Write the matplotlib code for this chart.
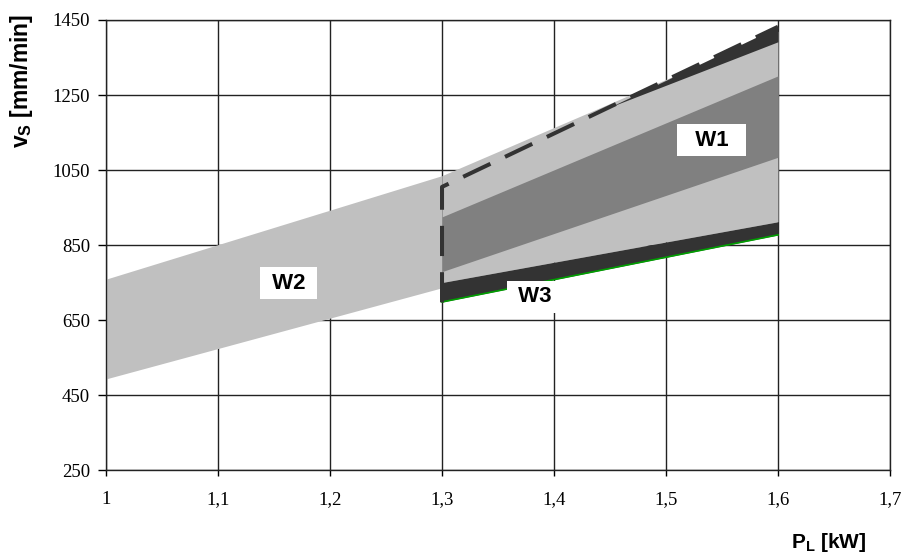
import numpy as np
import matplotlib
matplotlib.use("Agg")
import matplotlib.pyplot as plt
from matplotlib.ticker import FuncFormatter

plt.rcParams['mathtext.fontset'] = 'custom'
plt.rcParams['mathtext.bf'] = 'Liberation Sans:bold'
plt.rcParams['mathtext.rm'] = 'Liberation Sans'

# W2 band
x_w2 = [1.0, 1.3]
w2_low = [493, 736]
w2_high = [759, 1035]

# W1 band (layers from bottom to top)
x_w1 = [1.3, 1.6]
w3_low = [698, 877]
w3_high = [750, 912]
w1_mid_low = [779, 1084]
w1_mid_high = [925, 1301]
w1_high = [1035, 1420]

# dark wedge on top of W1
x_wedge = [1.45, 1.6]
wedge_low = [1218, 1392]
wedge_high = [1218, 1432]

# dashed boundary
x_dash = [1.3, 1.3, 1.6]
y_dash = [697, 1005, 1432]

x_ticks = [1.0, 1.1, 1.2, 1.3, 1.4, 1.5, 1.6, 1.7]
y_ticks = [250, 450, 650, 850, 1050, 1250, 1450]

light = '#c0c0c0'
mid = '#808080'
dark = '#333333'

fig = plt.figure(figsize=(9.04, 5.54), dpi=100)
ax = fig.add_axes([0.1173, 0.1516, 0.8672, 0.8123])

ax.fill_between(x_w2, w2_low, w2_high, color=light, lw=0, zorder=2)
ax.fill_between(x_w1, w3_high, w1_high, color=light, lw=0, zorder=2)
ax.fill_between(x_w1, w1_mid_low, w1_mid_high, color=mid, lw=0, zorder=3)
ax.fill_between(x_w1, w3_low, w3_high, color=dark, lw=0, zorder=3)
ax.fill_between(x_wedge, wedge_low, wedge_high, color=dark, lw=0, zorder=3)
ax.plot(x_w1, w3_low, color='#00a000', lw=1.2, zorder=4)
ax.plot(x_dash, y_dash, color=dark, lw=2.9, dashes=(7.5, 4), zorder=5,
        solid_capstyle='butt', dash_capstyle='butt')

box = dict(boxstyle='square,pad=0.25', fc='white', ec='none')
lbl = dict(fontsize=16, fontweight='bold', family='Liberation Sans',
           ha='center', va='center', zorder=6, bbox=box)
ax.text(1.163, 748, ' W2 ', **lbl)
ax.text(1.541, 1130, '  W1  ', **lbl)
ax.text(1.383, 712, ' W3 ', **lbl)

ax.set_xlim(1.0, 1.7)
ax.set_ylim(250, 1450)
ax.set_xticks(x_ticks)
ax.set_yticks(y_ticks)
ax.xaxis.set_major_formatter(FuncFormatter(
    lambda v, p: ('%g' % round(v, 2)).replace('.', ',')))
ax.set_axisbelow(True)
ax.grid(True, color='#222222', lw=1.0)
for s in ax.spines.values():
    s.set_color('#222222')
    s.set_linewidth(1.0)
ax.tick_params(axis='x', direction='out', length=4, width=1.0, pad=11,
               labelsize=13.5, labelfontfamily='Liberation Serif')
ax.tick_params(axis='y', direction='out', length=5.5, width=1.0, pad=6,
               labelsize=13.5, labelfontfamily='Liberation Serif')

fig.text(22 / 904, 1 - 81 / 554, r'$\mathbf{v_S}$ [mm/min]', rotation=90,
         fontsize=16.5, fontweight='bold', family='Liberation Sans',
         ha='center', va='center')
fig.text(829 / 904, 1 - 543 / 554, r'$\mathbf{P_L}$ [kW]',
         fontsize=15, fontweight='bold', family='Liberation Sans',
         ha='center', va='center')

fig.savefig('out.png', dpi=100)
